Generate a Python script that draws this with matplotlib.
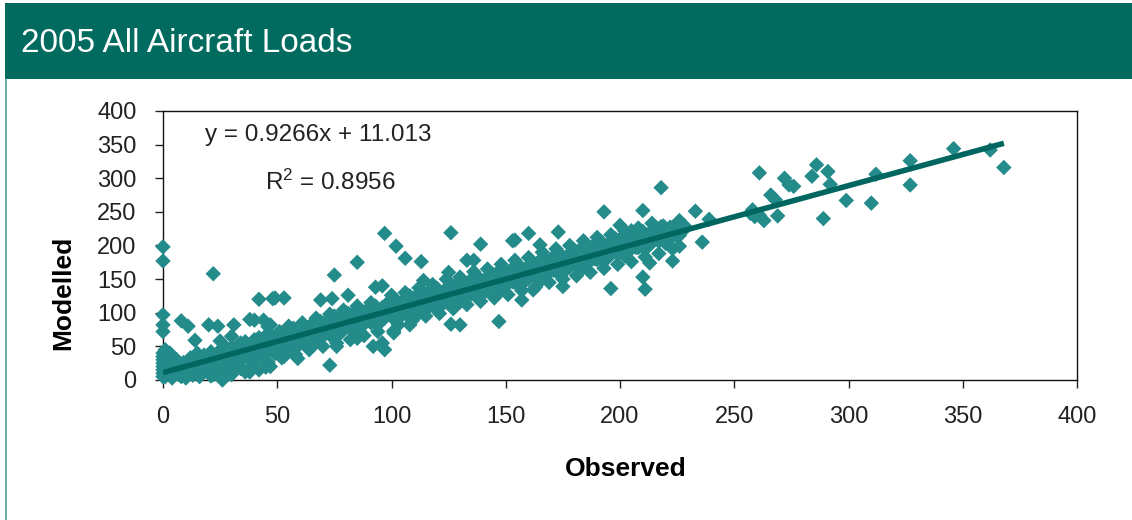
import matplotlib
matplotlib.use("Agg")
import matplotlib.pyplot as plt
from matplotlib.patches import Rectangle
from matplotlib.lines import Line2D

plt.rcParams["font.family"] = ["Liberation Sans", "DejaVu Sans"]
plt.rcParams["mathtext.default"] = "regular"

TITLE = "2005 All Aircraft Loads"
X_LABEL = "Observed"
Y_LABEL = "Modelled"
SLOPE = 0.9266
INTERCEPT = 11.013
R_SQUARED = 0.8956
X_TICKS = [0, 50, 100, 150, 200, 250, 300, 350, 400]
Y_TICKS = [0, 50, 100, 150, 200, 250, 300, 350, 400]

# link loads, main band (upper / middle / lower parts)
band_upper = [
    (3, 24), (6, 30), (9, 26), (12, 33), (15, 40), (18, 37), (21, 42), (24, 41), (27, 50), (30, 48),
    (33, 52), (36, 57), (39, 55), (42, 63), (45, 66), (48, 64), (51, 72), (54, 70), (57, 77), (60, 80),
    (63, 78), (66, 86), (69, 87), (72, 90), (75, 95), (78, 93), (81, 99), (84, 103), (87, 101), (90, 107),
    (93, 110), (96, 108), (99, 117), (102, 119), (105, 118), (108, 125), (111, 126), (114, 124), (117, 134),
    (120, 136), (123, 133), (126, 142), (129, 144), (132, 141), (135, 150), (138, 153), (141, 150), (144, 158),
    (147, 162), (150, 159), (153, 166), (156, 170), (159, 167), (162, 175), (165, 178), (168, 176), (171, 184),
    (174, 187), (177, 185), (180, 193), (183, 196), (186, 193), (189, 202), (192, 205), (195, 203), (198, 210),
    (201, 213), (204, 211), (207, 218), (210, 221), (213, 219), (216, 226), (219, 229), (222, 227), (225, 233),
]
band_middle = [
    (2, 14), (5, 13), (8, 20), (11, 19), (14, 22), (17, 29), (20, 27), (23, 31), (26, 37), (29, 36),
    (32, 39), (35, 45), (38, 44), (41, 48), (44, 54), (47, 53), (50, 56), (53, 62), (56, 61), (59, 64),
    (62, 71), (65, 70), (68, 73), (71, 79), (74, 78), (77, 81), (80, 88), (83, 87), (86, 89), (89, 96),
    (92, 95), (95, 98), (98, 104), (101, 103), (104, 106), (107, 113), (110, 112), (113, 114), (116, 121),
    (119, 120), (122, 123), (125, 130), (128, 128), (131, 131), (134, 138), (137, 137), (140, 139), (143, 146),
    (146, 145), (149, 148), (152, 155), (155, 153), (158, 156), (161, 163), (164, 162), (167, 164), (170, 171),
    (173, 170), (176, 173), (179, 180), (182, 178), (185, 181), (188, 188), (191, 187), (194, 189), (197, 196),
    (200, 195), (203, 198), (206, 205), (209, 203), (212, 206), (215, 213), (218, 212), (221, 214), (224, 221),
    (227, 220),
]
band_lower = [
    (1, 5), (4, 3), (7, 8), (10, 9), (13, 7), (16, 14), (19, 16), (22, 12), (25, 22), (28, 24),
    (31, 21), (34, 31), (37, 33), (40, 30), (43, 40), (46, 42), (49, 39), (52, 48), (55, 50), (58, 47),
    (61, 57), (64, 59), (67, 56), (70, 65), (73, 67), (76, 64), (79, 74), (82, 76), (85, 73), (88, 83),
    (91, 85), (94, 82), (97, 92), (100, 94), (103, 91), (106, 100), (109, 102), (112, 99), (115, 109),
    (118, 111), (121, 108), (124, 117), (127, 119), (130, 116), (133, 126), (136, 128), (139, 125), (142, 134),
    (145, 136), (148, 133), (151, 143), (154, 145), (157, 142), (160, 151), (163, 153), (166, 150), (169, 160),
    (172, 162), (175, 159), (178, 168), (181, 170), (184, 167), (187, 177), (190, 179), (193, 176), (196, 186),
    (199, 188), (202, 185), (205, 195), (208, 197), (211, 194), (214, 204), (217, 206), (220, 203), (223, 213),
    (226, 215),
]
band_fill = [
    (102, 109), (105, 99), (108, 116), (111, 104), (114, 121), (117, 110), (120, 127), (123, 116), (126, 133),
    (129, 122), (132, 139), (135, 128), (138, 145), (141, 134), (144, 150), (147, 140), (150, 157), (153, 146),
    (156, 163), (159, 152), (162, 169), (165, 158), (168, 175), (171, 163), (174, 181), (177, 169), (180, 187),
    (183, 175), (186, 192), (189, 180), (192, 198), (195, 186), (198, 204), (201, 192), (204, 210), (207, 197),
    (210, 216), (213, 203), (216, 222), (219, 209), (222, 227), (225, 214), (228, 230),
    (52, 52), (58, 60), (64, 67), (70, 72), (76, 76), (82, 85), (88, 90), (94, 94),
    (55, 64), (61, 70), (67, 79), (73, 84), (79, 90), (85, 96), (91, 101), (97, 106),
]
band_edges = [
    (100, 126), (106, 130), (112, 137), (118, 142), (124, 150), (130, 153), (136, 161), (142, 165), (148, 172),
    (154, 178), (160, 182), (166, 190), (172, 195), (178, 200), (184, 207), (190, 212), (196, 216), (202, 222),
    (208, 226), (214, 233), (55, 80), (61, 85), (67, 92), (73, 98), (79, 104), (85, 110), (91, 115), (40, 60),
    (46, 68), (34, 55), (28, 47),
    (103, 82), (109, 88), (115, 95), (121, 99), (127, 106), (133, 112), (139, 117), (145, 122), (151, 127),
    (157, 133), (163, 138), (169, 145), (175, 150), (181, 155), (187, 160), (193, 166), (199, 172), (205, 176),
    (211, 183), (217, 188), (223, 195), (58, 38), (64, 45), (70, 50), (76, 55), (82, 60), (88, 66), (94, 72),
    (52, 33), (46, 26), (40, 22), (34, 17), (28, 12), (22, 8), (16, 5), (10, 3),
]
low_loads = [
    (0, 5), (0, 10), (0, 15), (0, 20), (0, 25), (0, 30), (0, 35), (0, 40), (1, 45), (1, 8), (1, 18),
    (2, 28), (2, 35), (3, 12), (3, 40), (4, 22), (4, 6), (5, 32), (6, 18), (6, 10), (7, 26), (8, 5),
    (9, 14), (12, 15), (15, 10), (18, 20), (21, 6), (24, 18), (27, 14), (30, 8), (33, 24), (36, 12),
    (39, 20), (42, 15), (45, 28),
]
scattered = [
    (0, 198), (0, 177), (22, 158), (42, 120), (48, 121), (0, 97), (0, 82), (0, 72), (8, 88), (11, 80),
    (20, 82), (24, 80), (31, 82), (38, 90), (40, 89), (44, 89), (46, 79), (14, 59), (25, 58), (30, 65),
    (26, 0), (45, 19), (38, 12), (49, 122), (53, 122), (81, 126), (85, 175), (75, 156), (69, 119), (74, 121),
    (73, 22), (85, 62), (92, 50), (97, 45), (96, 55), (101, 73), (76, 50), (59, 32), (53, 35), (47, 20),
    (47, 82), (93, 138), (96, 140), (97, 218), (102, 199), (106, 181), (113, 176), (126, 219), (139, 202),
    (153, 207), (160, 218), (173, 220), (133, 178), (136, 178), (125, 160), (114, 148), (126, 83), (130, 82),
    (147, 87), (108, 82), (101, 70), (165, 201), (154, 208), (157, 119), (162, 134), (175, 139), (196, 136),
    (193, 250), (210, 252), (218, 286), (233, 251), (239, 239), (236, 205), (223, 177), (226, 237), (226, 199),
    (213, 174), (210, 153), (211, 135), (205, 222), (218, 228), (200, 230),
    (261, 308), (286, 320), (291, 310), (284, 303), (272, 300), (274, 290), (276, 288), (292, 291), (266, 275),
    (268, 268), (258, 253), (261, 245), (263, 237), (269, 244), (289, 240), (299, 267), (310, 263), (312, 306),
    (327, 326), (327, 290), (346, 344), (362, 342), (368, 316), (257, 248), (259, 243),
]

points = band_upper + band_middle + band_lower + band_fill + band_edges + low_loads + scattered
observed = [p[0] for p in points]
modelled = [p[1] for p in points]

fig = plt.figure(figsize=(11.32, 5.20), dpi=100)

# green header band with title
fig.patches.append(Rectangle((5 / 1132, 441 / 520), 1127 / 1132, 76 / 520,
                             transform=fig.transFigure, facecolor="#006B5E", edgecolor="none"))
fig.lines.append(Line2D([5.5 / 1132, 5.5 / 1132], [0, 441 / 520], transform=fig.transFigure,
                        color="#4E9C93", linewidth=1.2))
fig.text(21 / 1132, 477 / 520, TITLE, color="white", fontsize=24, va="center", ha="left")

ax = fig.add_axes([163 / 1132, 140 / 520, 914 / 1132, 269 / 520])
ax.scatter(observed, modelled, marker="D", s=62, color="#238B8A", edgecolors="none",
           clip_on=False, zorder=3)

x_end = max(observed)
ax.plot([0, x_end], [INTERCEPT, SLOPE * x_end + INTERCEPT], color="#00665F",
        linewidth=4, solid_capstyle="butt", zorder=4)

ax.set_xlim(0, 400)
ax.set_ylim(0, 400)
ax.set_xticks(X_TICKS)
ax.set_yticks(Y_TICKS)
ax.tick_params(direction="out", length=6, width=1, labelsize=17, colors="#222222", pad=13)
for spine in ax.spines.values():
    spine.set_color("#111111")
    spine.set_linewidth(1)

ax.text(18.5, 364, f"y = {SLOPE}x + {INTERCEPT}", fontsize=17.5, color="#222222", va="center")
ax.text(44.5, 294, f"R$^{{2}}$ = {R_SQUARED}", fontsize=17.5, color="#222222", va="center")

fig.text(626 / 1132, 51 / 520, X_LABEL, fontsize=19, fontweight="bold", ha="center", va="center")
fig.text(63 / 1132, 227 / 520, Y_LABEL, fontsize=19, fontweight="bold", ha="center", va="center",
         rotation=90)

fig.savefig("out.png", dpi=100)
